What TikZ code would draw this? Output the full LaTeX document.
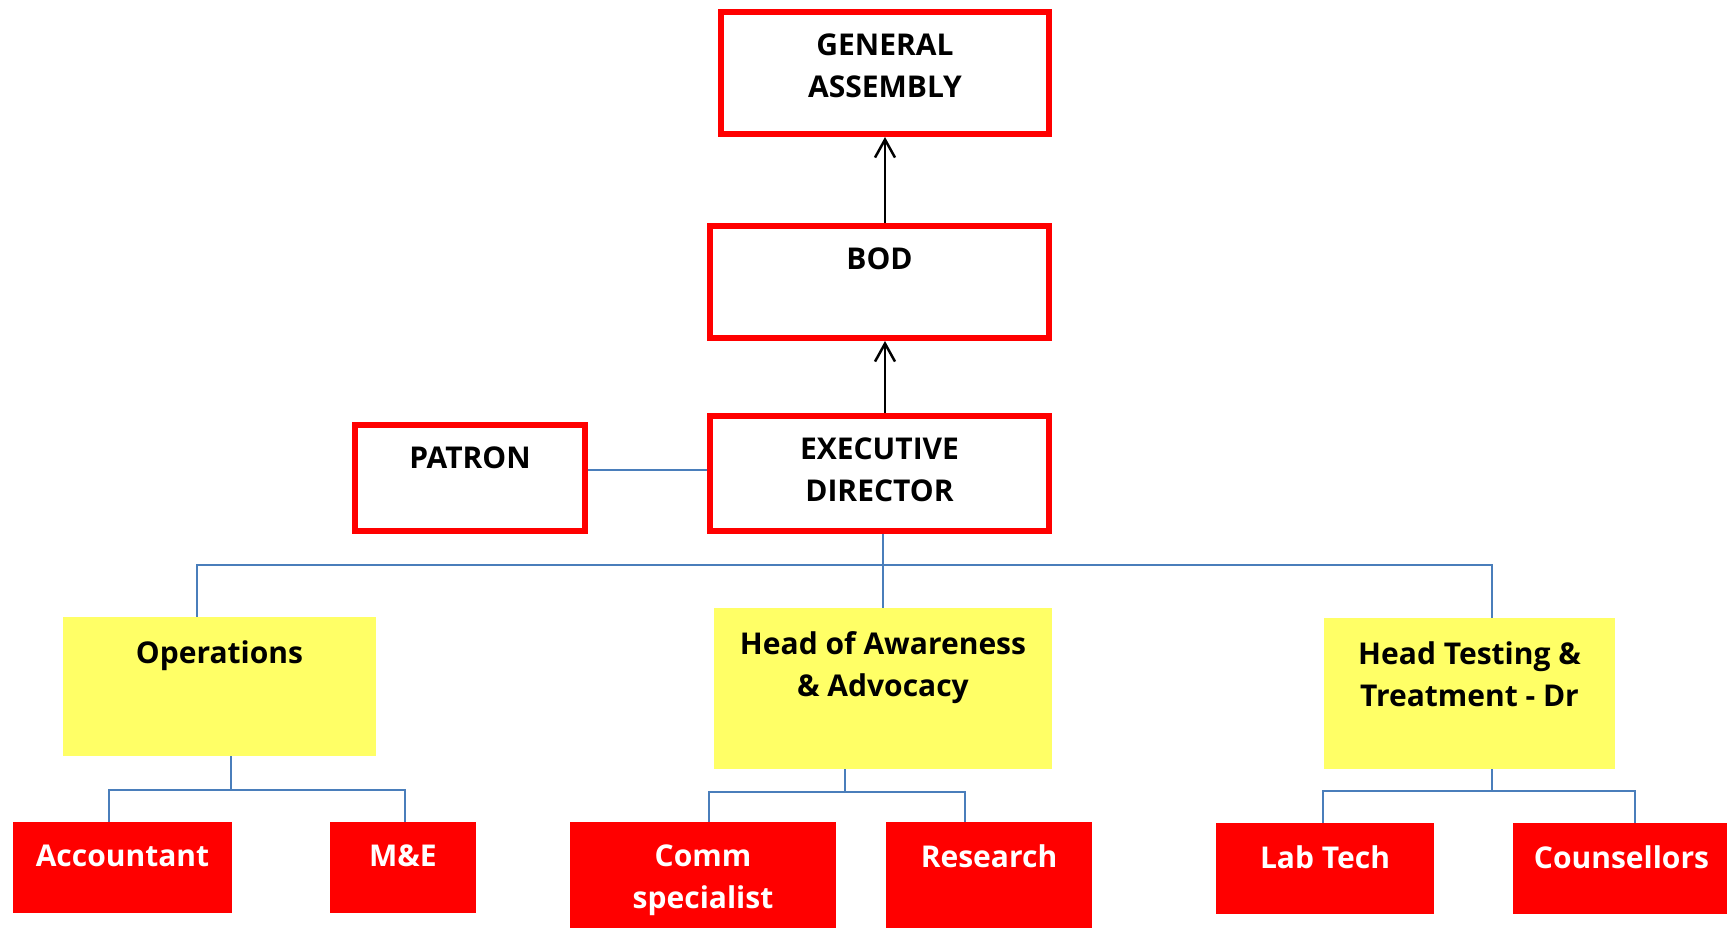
\documentclass[tikz,border=0pt]{standalone}
\usepackage{fontspec}
\setmainfont{Open Sans}
\usetikzlibrary{arrows.meta, calc}
\definecolor{orgred}{HTML}{FF0000}
\definecolor{orgyellow}{HTML}{FFFF66}
\definecolor{orgblue}{HTML}{4A7EBB}

\begin{document}
\begin{tikzpicture}[x=1pt, y=-1pt,
    board/.style 2 args={draw=orgred, line width=6pt, minimum width=#1, minimum height=#2, inner sep=0pt},
    unit/.style 2 args={fill=orgyellow, minimum width=#1, minimum height=#2, inner sep=0pt},
    staff/.style 2 args={fill=orgred, minimum width=#1, minimum height=#2, inner sep=0pt},
    txt/.style={font=\bfseries\fontsize{30}{42}\selectfont, align=center, anchor=north, inner sep=0pt},
    link/.style={draw=orgblue, line width=2pt},
    arrow/.style={-{Straight Barb[length=18pt, width=20pt]}, line width=2.5pt, black}
]
\useasboundingbox (0,0) rectangle (1727,927);
\clip (0,0) rectangle (1727,927);

% Governing boxes
\node[board={328}{122}] (ga) at (885,73) {};
\node[txt, yshift=-25] (ga-t) at (ga.north) {GENERAL\\ASSEMBLY};
\node[board={339}{112}] (bod) at (879.5,282) {};
\node[txt, yshift=-25] (bod-t) at (bod.north) {BOD};
\node[board={339}{115}] (ed) at (879.5,473.5) {};
\node[txt, yshift=-25] (ed-t) at (ed.north) {EXECUTIVE\\DIRECTOR};
\node[board={230}{106}] (pat) at (470,478) {};
\node[txt, yshift=-25] (pat-t) at (pat.north) {PATRON};

% Heads of units
\node[unit={313}{139}] (ops) at (219.5,686.5) {};
\node[txt, yshift=-24] (ops-t) at (ops.north) {Operations};
\node[unit={338}{161}] (aw) at (883,688.5) {};
\node[txt, yshift=-24] (aw-t) at (aw.north) {Head of Awareness\\\& Advocacy};
\node[unit={291}{151}] (ht) at (1469.5,693.5) {};
\node[txt, yshift=-24] (ht-t) at (ht.north) {Head Testing \&\\Treatment - Dr};

% Staff
\node[staff={219}{91}] (acc) at (122.5,867.5) {};
\node[txt, text=white, yshift=-23] (acc-t) at (acc.north) {Accountant};
\node[staff={146}{91}] (me) at (403,867.5) {};
\node[txt, text=white, yshift=-23] (me-t) at (me.north) {M\&E};
\node[staff={266}{140}] (comm) at (703,892) {};
\node[txt, text=white, yshift=-23] (comm-t) at (comm.north) {Comm\\specialist};
\node[staff={206}{140}] (res) at (989,892) {};
\node[txt, text=white, yshift=-23] (res-t) at (res.north) {Research};
\node[staff={218}{91}] (lab) at (1325,868.5) {};
\node[txt, text=white, yshift=-23] (lab-t) at (lab.north) {Lab Tech};
\node[staff={217}{91}] (cou) at (1621.5,868.5) {};
\node[txt, text=white, yshift=-23] (cou-t) at (cou.north) {Counsellors};

% Reporting arrows
\draw[arrow] (bod.north -| ga.south) -- (ga.south);
\draw[arrow] (ed.north -| ga.south) -- (bod.south -| ga.south);

% Links
\draw[link] ([yshift=4]ed.west) -- ([yshift=4]ed.west -| pat.east);
\coordinate (bus) at (884,565);
\draw[link] (aw.north |- ed.south) -- (aw.north);
\draw[link] ([xshift=-23]ops.north) |- (bus) -| ([xshift=22]ht.north);

\coordinate (opsj) at (231,790);
\draw[link] (opsj |- ops.south) -- (opsj);
\draw[link] ([xshift=-14]acc.north) |- (opsj) -| ([xshift=2]me.north);

\coordinate (awj) at (845,792);
\draw[link] (awj |- aw.south) -- (awj);
\draw[link] ([xshift=6]comm.north) |- (awj) -| ([xshift=-24]res.north);

\coordinate (htj) at (1492,791);
\draw[link] (htj |- ht.south) -- (htj);
\draw[link] ([xshift=-2]lab.north) |- (htj) -| ([xshift=13]cou.north);

\end{tikzpicture}
\end{document}
